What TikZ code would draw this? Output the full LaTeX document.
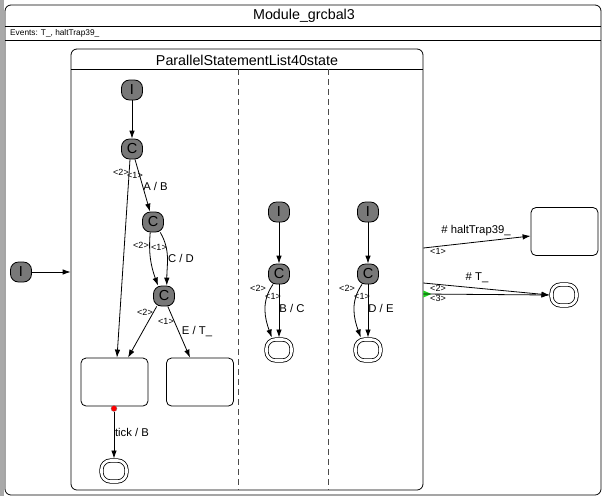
\documentclass[tikz,border=0pt]{standalone}
\usepackage{fontspec}
\setmainfont{Liberation Sans}
\usetikzlibrary{arrows.meta, positioning, calc}
\definecolor{stgray}{HTML}{787878}
\definecolor{bargray}{HTML}{A9A9A9}
\definecolor{divgray}{HTML}{4A4A4A}
\definecolor{trapgreen}{HTML}{1FD21F}

\begin{document}
\begin{tikzpicture}[x=1pt, y=1pt,
  >={Latex[length=8pt, width=5.5pt]},
  pseudo/.style={
    draw, line width=0.8pt, fill=stgray, rounded corners=8pt,
    minimum width=21pt, minimum height=20pt, inner sep=0pt,
    font=\fontsize{14.5}{14}\selectfont
  },
  finalst/.style={
    draw, double, double distance=2.6pt, line width=0.8pt,
    rounded corners=9pt, minimum width=25pt, minimum height=21pt,
    inner sep=0pt, outer sep=2pt
  },
  statebox/.style={
    draw, line width=0.8pt, rounded corners=5pt,
    minimum width=67pt, minimum height=48pt, inner sep=0pt
  },
  tr/.style={->, line width=0.8pt},
  lab/.style={font=\fontsize{11.3}{12}\selectfont, inner sep=0pt},
  prio/.style={font=\fontsize{9}{10}\selectfont, inner sep=0pt},
]

\useasboundingbox (0,0) rectangle (602,-496);

% Background
\fill[white] (0,0) rectangle (602,-496);
\fill[bargray] (0,0) rectangle (4,-496);

% =============================================
% Module frame
% =============================================
\node[draw, line width=0.8pt, rounded corners=6pt, minimum width=596pt,
  minimum height=490pt, inner sep=0pt] (mod) at (303,-250) {};
\node[font=\fontsize{14.3}{16}\selectfont] (modtitle) at (304,-16)
  {Module\_grcbal3};
\draw[line width=0.8pt] (5,-26) -- (601,-26);
\node[anchor=west, font=\fontsize{8.3}{9}\selectfont, inner sep=0pt] (events)
  at (10,-33) {Events: T\_, haltTrap39\_};
\draw[line width=0.8pt] (5,-40) -- (601,-40);

% =============================================
% Parallel state
% =============================================
\node[draw, line width=0.8pt, rounded corners=6pt, minimum width=352pt,
  minimum height=441pt, inner sep=0pt] (par) at (247,-269.5) {};
\node[font=\fontsize{14.3}{16}\selectfont] (partitle) at (247,-60)
  {ParallelStatementList40state};
\draw[line width=0.8pt] (71,-69) -- (423,-69);

% Region dividers
\draw[divgray, line width=0.8pt, dash pattern=on 6pt off 4pt] (238,-69) -- (238,-490);
\draw[divgray, line width=0.8pt, dash pattern=on 6pt off 4pt] (328,-69) -- (328,-490);

% Outer initial
\node[pseudo] (i0) at (21,-272) {I};
\draw[tr] (i0) -- (i0 -| par.west);

% =============================================
% Region 1
% =============================================
\node[pseudo] (i1) at (132,-90) {I};
\node[pseudo] (c1) at (132,-149) {C};
\node[pseudo] (c2) at (153,-222) {C};
\node[pseudo] (c3) at (164,-296) {C};
\node[statebox] (lbox) at (114.5,-382) {};
\node[statebox] (rbox) at (200,-382) {};
\node[finalst] (fin1) at (114,-471) {};
\node[circle, fill=red, draw=black!50, line width=0.3pt, minimum size=6pt,
  inner sep=0pt] (tickdot) at (114,-408.5) {};

\draw[tr] (i1) -- (c1);
\draw[tr] ($(c1.south)+(-2,0)$) -- ($(lbox.north)+(2.5,0)$);
\draw[tr] ($(c1.south)+(3,0)$) -- (c2);
\draw[tr] (c2.255) to[out=265, in=110] (c3.120);
\draw[tr] (c2.305) to[out=-60, in=90] (c3.75);
\draw[tr] (c3.235) -- ($(lbox.north)+(13.5,0)$);
\draw[tr] (c3.290) -- ($(rbox.north)+(-10,0)$);
\draw[tr] (tickdot) -- (fin1);

\node[prio] (pr1b) at (121,-172) {<2>};
\node[prio] (pr1a) at (135,-175) {<1>};
\node[lab] (lab1) at (155.5,-186) {A / B};
\node[prio] (pr2b) at (141,-245) {<2>};
\node[prio] (pr2a) at (159,-247) {<1>};
\node[lab] (lab2) at (181,-258) {C / D};
\node[prio] (pr3b) at (145,-312) {<2>};
\node[prio] (pr3a) at (166,-321) {<1>};
\node[lab] (lab3) at (197,-332) {E / T\_};
\node[lab] (lab4) at (132,-432) {tick / B};

% =============================================
% Region 2
% =============================================
\node[pseudo] (i2) at (279,-212) {I};
\node[pseudo] (c4) at (279,-274) {C};
\node[finalst] (fin2) at (279,-350) {};

\draw[tr] (i2) -- (c4);
\draw[tr] (c4) -- (fin2);
\draw[tr] (c4.240) to[out=235, in=110] (fin2.120);

\node[prio] (pr4b) at (258,-288) {<2>};
\node[prio] (pr4a) at (273,-296) {<1>};
\node[lab] (lab5) at (292,-308) {B / C};

% =============================================
% Region 3
% =============================================
\node[pseudo] (i3) at (368,-212) {I};
\node[pseudo] (c5) at (368,-274) {C};
\node[finalst] (fin3) at (368,-350) {};

\draw[tr] (i3) -- (c5);
\draw[tr] (c5) -- (fin3);
\draw[tr] (c5.240) to[out=235, in=110] (fin3.120);

\node[prio] (pr5b) at (347,-288) {<2>};
\node[prio] (pr5a) at (362,-296) {<1>};
\node[lab] (lab6) at (381,-308) {D / E};

% =============================================
% Outer transitions
% =============================================
\node[statebox] (trapbox) at (564.5,-231.5) {};
\node[finalst] (fin4) at (564,-295) {};
\coordinate (strong) at ($(par.east)+(0,-24.5)$);
\fill[trapgreen] (strong) ++(0,3.5) -- ++(8,-3.5) -- ++(-8,-3.5) -- cycle;

\draw[tr] ($(par.east)+(0,21.5)$) -- ($(trapbox.west)+(0,-4.5)$);
\draw[tr] ($(par.east)+(0,-13.5)$) -- (fin4.west);
\draw[tr] (strong) -- (fin4.west);

\node[lab] (lab7) at (476,-231) {\# haltTrap39\_};
\node[prio] (pr6a) at (438,-251) {<1>};
\node[lab] (lab8) at (477,-278) {\# T\_};
\node[prio] (pr6b) at (438,-288) {<2>};
\node[prio] (pr6c) at (438,-298) {<3>};

\end{tikzpicture}
\end{document}
